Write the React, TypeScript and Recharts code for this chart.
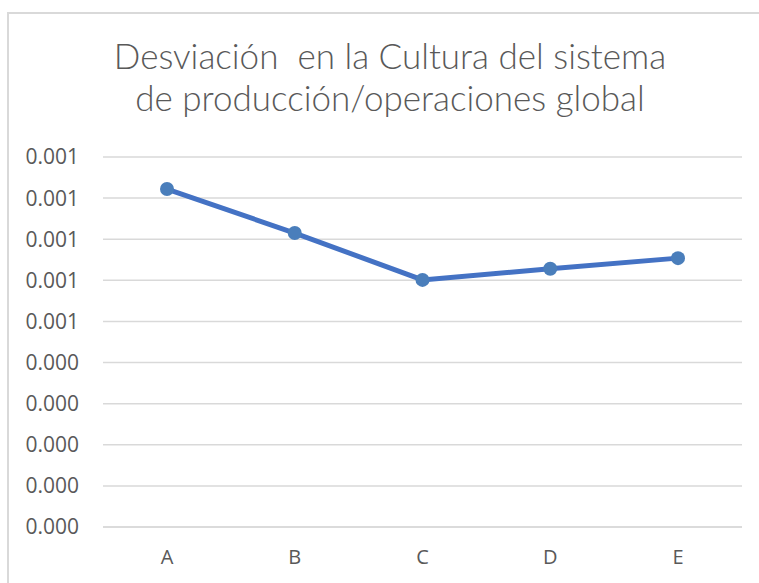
import React from "react";
import { LineChart, Line, XAxis, YAxis, CartesianGrid } from "recharts";

const categories = ["A", "B", "C", "D", "E"];
const values = [0.000822, 0.000715, 0.000601, 0.000628, 0.000654];
const yTicks = [0, 0.0001, 0.0002, 0.0003, 0.0004, 0.0005, 0.0006, 0.0007, 0.0008, 0.0009];
const titleLines = ["Desviación  en la Cultura del sistema", "de producción/operaciones global"];

const data = categories.map((c, i) => ({ name: c, value: values[i] }));

const tickFont = "'Open Sans', 'Liberation Sans', Arial, sans-serif";

export default function App() {
  return (
    <div style={{ position: "absolute", left: 0, top: 0, width: 759, height: 583, background: "#fff", overflow: "hidden" }}>
      <div style={{ position: "absolute", left: 7, top: 12, width: 752, height: 571, borderTop: "2px solid #d9d9d9", borderLeft: "2px solid #d9d9d9", boxSizing: "border-box" }} />
      <div style={{ position: "absolute", left: 0, top: 34, width: 780, textAlign: "center", fontFamily: "Lato, sans-serif", fontWeight: 300, fontSize: 35, lineHeight: "42px", color: "#595959", whiteSpace: "pre" }}>
        {titleLines.map((t, i) => (
          <div key={i}>{t}</div>
        ))}
      </div>
      <div style={{ position: "absolute", left: 0, top: 0 }}>
        <LineChart width={759} height={583} data={data} margin={{ top: 157, right: 17, bottom: 26, left: 0 }}>
          <CartesianGrid vertical={false} stroke="#d9d9d9" strokeWidth={1.5} />
          <XAxis
            dataKey="name"
            height={30}
            padding={{ left: 64, right: 64 }}
            tickLine={false}
            axisLine={{ stroke: "#d9d9d9", strokeWidth: 1.5 }}
            tickSize={0}
            tickMargin={23}
            tick={{ fill: "#595959", fontSize: 20, fontFamily: tickFont }}
          />
          <YAxis
            width={103}
            domain={[0, 0.0009]}
            ticks={yTicks}
            interval={0}
            tickFormatter={(v: number) => v.toFixed(3)}
            tickLine={false}
            axisLine={false}
            tickSize={0}
            tickMargin={24}
            tick={{ fill: "#595959", fontSize: 21, fontFamily: tickFont }}
          />
          <Line
            type="linear"
            dataKey="value"
            stroke="#4472C4"
            strokeWidth={5}
            dot={{ r: 7, fill: "#4a7ebb", stroke: "#4a7ebb", strokeWidth: 0 }}
            isAnimationActive={false}
          />
        </LineChart>
      </div>
    </div>
  );
}
